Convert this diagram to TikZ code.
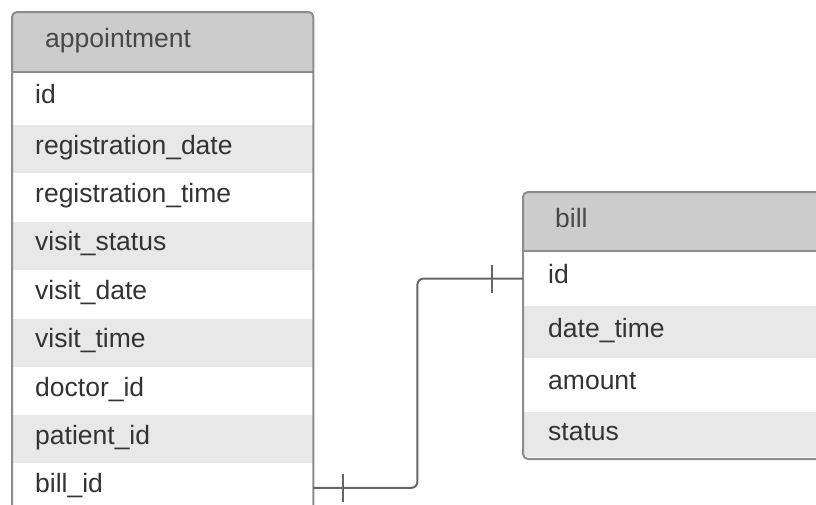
\documentclass[tikz,border=0pt]{standalone}
\usepackage{fontspec}
\setmainfont{Liberation Sans}
\usetikzlibrary{positioning}
\definecolor{ErdLine}{HTML}{8C8C8C}
\definecolor{ErdHead}{HTML}{CCCCCC}
\definecolor{ErdStripe}{HTML}{E8E8E8}
\definecolor{ErdText}{HTML}{333333}
\definecolor{ErdLink}{HTML}{666666}
\tikzset{
  tblfont/.style={font=\fontsize{26.5}{30}\selectfont},
  tblhead/.style={tblfont,fill=ErdHead,anchor=north west,align=left,inner ysep=0pt,
    text height=19pt,text depth=8pt,text=ErdText!90},
  tblrow/.style={tblfont,align=left,inner ysep=0pt,text height=19pt,text depth=9pt,text=ErdText},
  tblframe/.style={draw=ErdLine,line width=2pt},
  relline/.style={draw=ErdLink,line width=2pt}
}
\begin{document}
\begin{tikzpicture}[x=1pt,y=-1pt,node distance=0pt]
   \clip (0,0) rectangle (816,504);
   \coordinate (appt-nw) at (12,12);
   \coordinate (bill-nw) at (523,192);
   \begin{scope}
     \clip[rounded corners=5pt] (appt-nw) rectangle ++(301,520);
     \node[tblhead,text width=235pt,inner xsep=33pt,minimum height=60pt] (appt-head) at (appt-nw) {appointment};
     \node[tblrow,fill=white,text width=255pt,inner xsep=23pt,minimum height=52pt,below=of appt-head] (appt-id) {id};
     \foreach \name/\txt/\shade [remember=\name as \prev (initially id)] in
       {regdate/registration\_date/ErdStripe,regtime/registration\_time/white,
        vstatus/visit\_status/ErdStripe,vdate/visit\_date/white,vtime/visit\_time/ErdStripe,
        doctor/doctor\_id/white,patient/patient\_id/ErdStripe,billid/bill\_id/white}
       \node[tblrow,fill=\shade,text width=255pt,inner xsep=23pt,minimum height=48pt,below=of appt-\prev] (appt-\name) {\txt};
   \end{scope}
   \draw[tblframe,rounded corners=5pt] (appt-head.north west) rectangle (appt-billid.south east);
   \draw[tblframe] (appt-head.south west) -- (appt-head.south east);
   \begin{scope}
     \clip[rounded corners=5pt] (bill-nw) rectangle ++(340,265);
     \node[tblhead,text width=276pt,inner xsep=32pt,minimum height=59pt] (bill-head) at (bill-nw) {bill};
     \foreach \name/\txt/\shade/\rowh [remember=\name as \prev (initially head)] in
       {id/id/white/54,datetime/date\_time/ErdStripe/52,amount/amount/white/53,status/status/ErdStripe/47}
       \node[tblrow,fill=\shade,text width=290pt,inner xsep=25pt,minimum height=\rowh pt,below=of bill-\prev] (bill-\name) {\txt};
   \end{scope}
   \draw[tblframe,rounded corners=5pt] (bill-head.north west) rectangle (bill-status.south east);
   \draw[tblframe] (bill-head.south west) -- (bill-head.south east);
   \draw[relline,rounded corners=6pt] (appt-billid.east) -- ++(104,0) |- (bill-id.west);
   \draw[relline] ([xshift=30pt]appt-billid.east) ++(0,-14) -- ++(0,28);
   \draw[relline] ([xshift=-31pt]bill-id.west) ++(0,-14) -- ++(0,28);
\end{tikzpicture}
\end{document}
